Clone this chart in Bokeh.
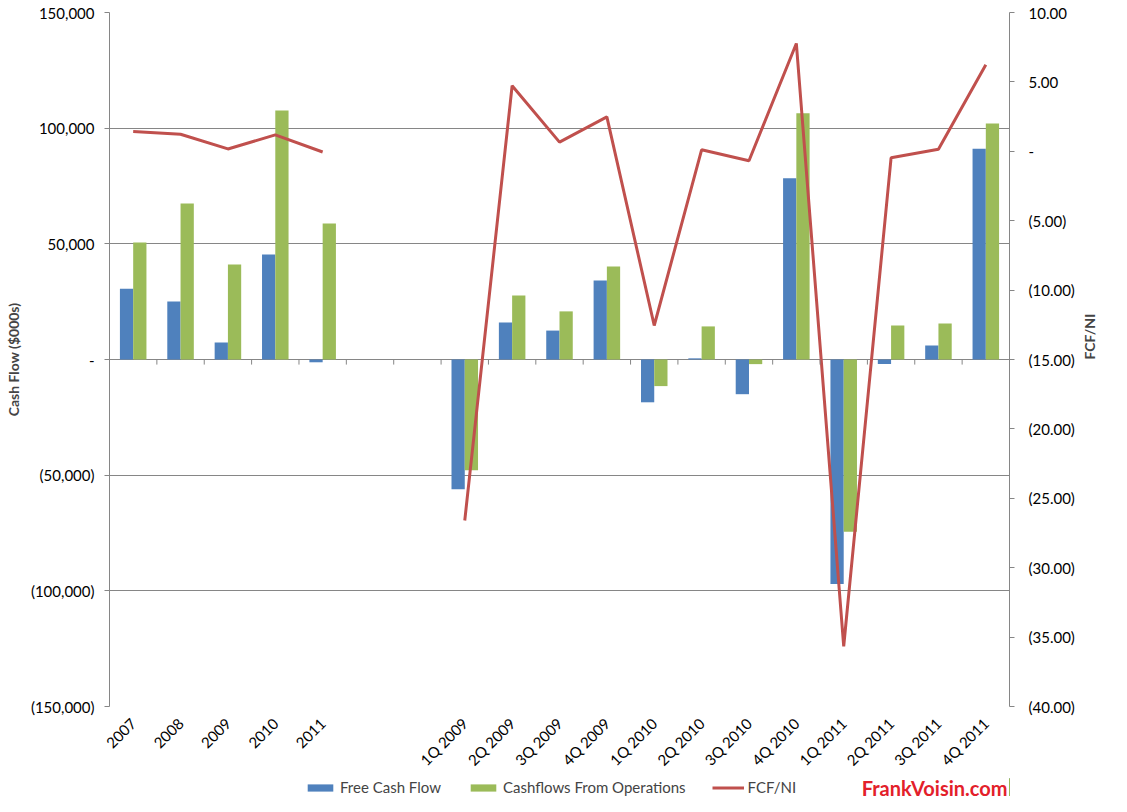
import numpy as np
from bokeh.plotting import figure
from bokeh.layouts import column
from bokeh.models import (Range1d, LinearAxis, FixedTicker, Legend, LegendItem,
                          Label, ColumnDataSource)
from bokeh.transform import dodge
from bokeh.embed import file_html
from bokeh.resources import INLINE

# ---------------- data ----------------
categories = ["2007", "2008", "2009", "2010", "2011", "", "",
              "1Q 2009", "2Q 2009", "3Q 2009", "4Q 2009",
              "1Q 2010", "2Q 2010", "3Q 2010", "4Q 2010",
              "1Q 2011", "2Q 2011", "3Q 2011", "4Q 2011"]
free_cash_flow = [30600, 25100, 7400, 45400, -1200, None, None,
                  -56100, 16000, 12500, 34200,
                  -18500, 500, -15000, 78300,
                  -97000, -1900, 6100, 91100]
cash_from_ops = [50600, 67400, 41100, 107600, 58800, None, None,
                 -47900, 27700, 20800, 40200,
                 -11500, 14300, -2000, 106400,
                 -74500, 14700, 15600, 102000]
fcf_ni = [1.42, 1.23, 0.17, 1.18, -0.05, None, None,
          -26.6, 4.72, 0.66, 2.48,
          -12.55, 0.11, -0.68, 7.77,
          -35.66, -0.47, 0.15, 6.23]
left_ticks = [-150000, -100000, -50000, 0, 50000, 100000, 150000]
left_tick_labels = ["(150,000)", "(100,000)", "(50,000)", "-", "50,000", "100,000", "150,000"]
right_ticks = [-40, -35, -30, -25, -20, -15, -10, -5, 0, 5, 10]
right_tick_labels = ["(40.00)", "(35.00)", "(30.00)", "(25.00)", "(20.00)", "(15.00)",
                     "(10.00)", "(5.00)", "-", "5.00", "10.00"]
series_names = ["Free Cash Flow", "Cashflows From Operations", "FCF/NI"]
site_name = "FrankVoisin.com"

FONT = "Lato"
BLUE = "#4F81BD"
GREEN = "#9BBB59"
RED = "#C0504D"
GRAY = "#868686"

idx = np.arange(len(categories))
valid = [i for i, c in enumerate(categories) if c != ""]

bar_src = ColumnDataSource(dict(
    x=[float(i) for i in valid],
    fcf=[free_cash_flow[i] for i in valid],
    cfo=[cash_from_ops[i] for i in valid],
))
line_src = ColumnDataSource(dict(
    x=idx.astype(float),
    r=[np.nan if v is None else v for v in fcf_ni],
))

# ---------------- main chart ----------------
p = figure(width=1111, height=778, output_backend="svg", toolbar_location=None,
           x_range=Range1d(-0.5, len(categories) - 0.5),
           y_range=Range1d(-150000, 150000),
           min_border_left=109, min_border_right=102,
           min_border_top=12, min_border_bottom=72)
p.outline_line_color = None
p.background_fill_color = "white"
p.border_fill_color = "white"
p.extra_y_ranges = {"ratio": Range1d(-40, 10)}

bw = 0.28
p.vbar(x=dodge("x", -bw / 2), top="fcf", bottom=0, width=bw, source=bar_src,
       fill_color=BLUE, line_color=None)
p.vbar(x=dodge("x", bw / 2), top="cfo", bottom=0, width=bw, source=bar_src,
       fill_color=GREEN, line_color=None)
p.line(x="x", y="r", source=line_src, y_range_name="ratio",
       line_color=RED, line_width=3)

# category boundary ticks along the zero line
bounds = np.arange(len(categories) + 1) - 0.5
p.segment(x0=bounds, x1=bounds, y0=np.zeros(len(bounds)),
          y1=np.full(len(bounds), -2200.0), line_color=GRAY, line_width=1)

p.xgrid.visible = False
p.ygrid.grid_line_color = GRAY
p.ygrid.grid_line_width = 1
p.ygrid.ticker = FixedTicker(ticks=left_ticks)

ya = p.yaxis[0]
ya.ticker = FixedTicker(ticks=left_ticks)
ya.major_label_overrides = {t: l for t, l in zip(left_ticks, left_tick_labels)}
ya.axis_label = "Cash Flow ($000s)"
ya.axis_label_text_font = FONT
ya.axis_label_text_font_style = "bold"
ya.axis_label_text_font_size = "14px"
ya.axis_label_standoff = 6
ya.major_label_text_font = FONT
ya.major_label_text_font_size = "15px"
ya.major_label_text_color = "black"
ya.axis_line_color = GRAY
ya.major_tick_line_color = GRAY
ya.major_tick_out = 5
ya.major_tick_in = 0
ya.minor_tick_line_color = None
ya.major_label_standoff = 10

ra = LinearAxis(y_range_name="ratio", ticker=FixedTicker(ticks=right_ticks))
ra.major_label_overrides = {t: l for t, l in zip(right_ticks, right_tick_labels)}
ra.axis_label = "FCF/NI"
ra.axis_label_orientation = np.pi / 2
ra.axis_label_text_font = FONT
ra.axis_label_text_font_style = "bold"
ra.axis_label_text_font_size = "14px"
ra.axis_label_standoff = 12
ra.major_label_text_font = FONT
ra.major_label_text_font_size = "15px"
ra.major_label_text_color = "black"
ra.axis_line_color = GRAY
ra.major_tick_line_color = GRAY
ra.major_tick_out = 5
ra.major_tick_in = 0
ra.minor_tick_line_color = None
ra.major_label_standoff = 14
p.add_layout(ra, "right")

xa = p.xaxis[0]
xa.ticker = FixedTicker(ticks=[float(i) for i in valid])
xa.major_label_overrides = {float(i): categories[i] for i in valid}
xa.major_label_orientation = np.pi / 4
xa.major_label_text_font = FONT
xa.major_label_text_font_size = "15px"
xa.major_label_text_color = "black"
xa.axis_line_color = None
xa.major_tick_line_color = None
xa.major_tick_out = 0
xa.major_tick_in = 0
xa.minor_tick_line_color = None
xa.major_label_standoff = 14

# ---------------- legend strip ----------------
# proxies share the chart's data; the strip's x range lies away from it so
# only their legend swatches show
q = figure(width=1111, height=18, output_backend="svg", toolbar_location=None,
           x_range=Range1d(-3, -2), y_range=Range1d(0, 1),
           x_axis_location=None, y_axis_location=None,
           min_border_left=0, min_border_right=0, min_border_top=0, min_border_bottom=0)
q.outline_line_color = None
q.grid.visible = False
q.border_fill_color = "white"
k_fcf = q.vbar(x=dodge("x", -bw / 2), top="fcf", bottom=0, width=bw, source=bar_src,
               fill_color=BLUE, line_color=None)
k_cfo = q.vbar(x=dodge("x", bw / 2), top="cfo", bottom=0, width=bw, source=bar_src,
               fill_color=GREEN, line_color=None)
k_line = q.line(x="x", y="r", source=line_src, line_color=RED, line_width=3)

legend = Legend(items=[LegendItem(label=series_names[0], renderers=[k_fcf]),
                       LegendItem(label=series_names[1], renderers=[k_cfo]),
                       LegendItem(label=series_names[2], renderers=[k_line])],
                orientation="horizontal", location=(195, 0),
                padding=0, margin=0, spacing=26, label_standoff=4,
                glyph_width=32, glyph_height=9,
                label_text_font=FONT, label_text_font_size="15px",
                background_fill_alpha=0, border_line_color=None)
q.add_layout(legend, "center")

q.add_layout(Label(x=898, y=9, x_units="screen", y_units="screen",
                   text=site_name, text_align="right", text_baseline="middle",
                   text_font=FONT, text_font_style="bold", text_font_size="20px",
                   text_color="#E3202A"))

layout = column(p, q, spacing=0)
open("out.html", "w").write(file_html(layout, INLINE))
